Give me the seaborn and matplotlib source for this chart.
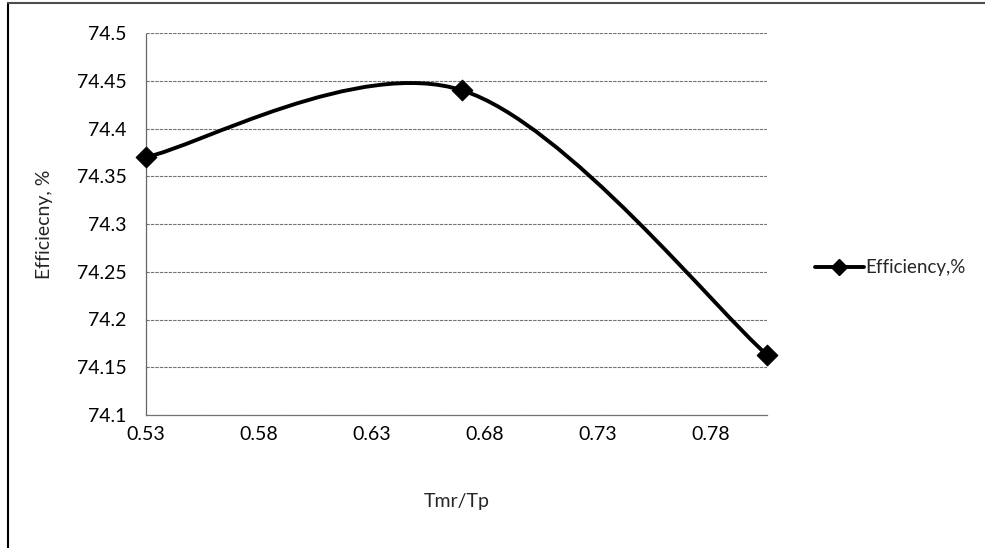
import numpy as np
import matplotlib
matplotlib.use("Agg")
import matplotlib.pyplot as plt
import seaborn as sns
from matplotlib.path import Path
from matplotlib.patches import PathPatch
from matplotlib.lines import Line2D
import pandas as pd

# Data
x_vals = [0.53, 0.67, 0.805]
y_vals = [74.37, 74.44, 74.163]
x_ticks = [0.53, 0.58, 0.63, 0.68, 0.73, 0.78]
y_ticks = [74.1, 74.15, 74.2, 74.25, 74.3, 74.35, 74.4, 74.45, 74.5]
series_name = "Efficiency,%"
x_label = "Tmr/Tp"
y_label = "Efficiecny, %"

sns.set_theme(style="white")
plt.rcParams['font.family'] = ['Lato', 'DejaVu Sans']

fig = plt.figure(figsize=(9.85, 5.48), dpi=100)
ax = fig.add_axes([146/985, 1-415/548, (767-146)/985, (415-33)/548])

df = pd.DataFrame({"x": x_vals, "y": y_vals})

# Smoothed (Excel-like Catmull-Rom Bezier) curve through the data points
pts = np.array(list(zip(x_vals, y_vals)))
n = len(pts)
verts = [tuple(pts[0])]
codes = [Path.MOVETO]
for i in range(n - 1):
    p0 = pts[i - 1] if i > 0 else pts[i]
    p1 = pts[i]
    p2 = pts[i + 1]
    p3 = pts[i + 2] if i + 2 < n else pts[i + 1]
    c1 = p1 + (p2 - p0) / 6.0
    c2 = p2 - (p3 - p1) / 6.0
    verts += [tuple(c1), tuple(c2), tuple(p2)]
    codes += [Path.CURVE4] * 3
patch = PathPatch(Path(verts, codes), facecolor='none', edgecolor='black',
                  linewidth=2.8, zorder=3, capstyle='round')
ax.add_patch(patch)

sns.scatterplot(data=df, x="x", y="y", marker="D", s=110, color="black",
                edgecolor="black", ax=ax, zorder=4, legend=False, clip_on=False)

ax.set_xlim(0.53, 0.805)
ax.set_ylim(74.1, 74.5)
ax.set_xticks(x_ticks)
ax.set_xticklabels([f"{v:.2f}" for v in x_ticks])
ax.set_yticks(y_ticks)
ax.set_yticklabels([f"{v:g}" for v in y_ticks])
ax.tick_params(axis='both', length=0, labelsize=14, colors='black')
ax.tick_params(axis='y', pad=14)
ax.tick_params(axis='x', pad=8)

ax.yaxis.grid(True, color='0.45', linestyle=(0, (3, 1)), linewidth=0.8)
ax.xaxis.grid(False)
for s in ['top', 'right']:
    ax.spines[s].set_visible(False)
ax.spines['left'].set_color('0.4')
ax.spines['left'].set_linestyle((0, (2, 1)))
ax.spines['left'].set_linewidth(0.9)
ax.spines['bottom'].set_color('0.45')
ax.spines['bottom'].set_linewidth(0.9)

ax.set_xlabel(x_label, fontsize=14, labelpad=36)
ax.set_ylabel(y_label, fontsize=14, labelpad=17)

handle = Line2D([], [], color='black', linewidth=2.8, marker='D', markersize=8)
leg = ax.legend([handle], [series_name], loc='center left',
                bbox_to_anchor=(1.05, 0.385), frameon=False, fontsize=13.5,
                handlelength=2.6, handletextpad=0.1)

# Chart border (left and top visible)
fig.add_artist(Line2D([8/985, 8/985], [0, 1-3/548], color='black', linewidth=1.5))
fig.add_artist(Line2D([8/985, 1], [1-3/548, 1-3/548], color='0.3', linewidth=1.5))

fig.savefig("out.png", dpi=100, facecolor='white')
